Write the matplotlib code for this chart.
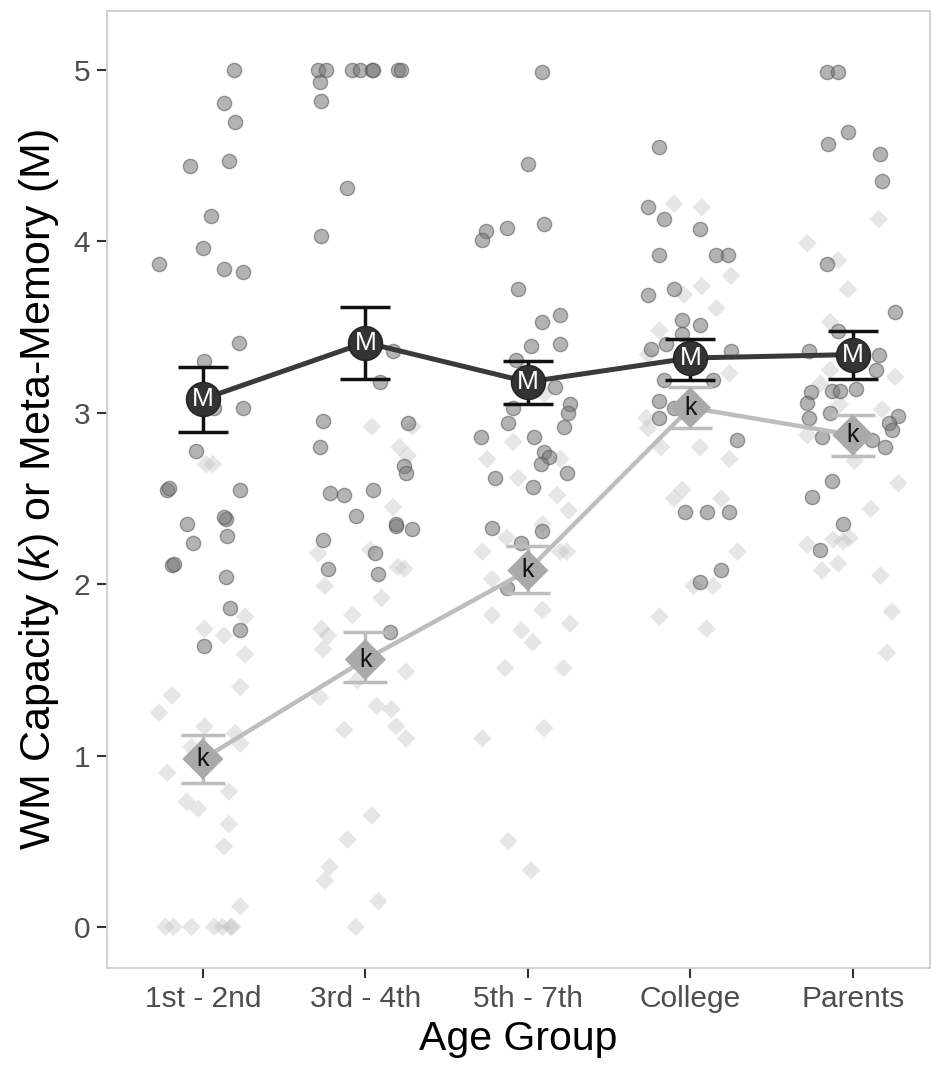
import matplotlib
matplotlib.use("Agg")
import matplotlib.pyplot as plt
import numpy as np

plt.rcParams['font.family'] = ['Liberation Sans', 'DejaVu Sans']
plt.rcParams['mathtext.fontset'] = 'custom'
plt.rcParams['mathtext.rm'] = 'Liberation Sans'
plt.rcParams['mathtext.it'] = 'Liberation Sans:italic'

groups = ["1st - 2nd", "3rd - 4th", "5th - 7th", "College", "Parents"]

# Individual meta-memory (M) scores: jitter offset from group centre, value
m_off_1 = [0.19, 0.13, 0.20, -0.08, 0.16, 0.05, 0.00, -0.27, 0.13, 0.25, 0.22, 0.01, 0.07, 0.25,
           -0.04, -0.22, -0.21, 0.23, -0.10, 0.14, 0.13, 0.15, -0.06, -0.19, -0.18, 0.14, 0.17, 0.23, 0.01]
m_val_1 = [5.00, 4.81, 4.70, 4.44, 4.47, 4.15, 3.96, 3.87, 3.84, 3.82, 3.41, 3.30, 3.03, 3.03,
           2.78, 2.55, 2.56, 2.55, 2.35, 2.38, 2.39, 2.28, 2.24, 2.11, 2.12, 2.04, 1.86, 1.73, 1.64]
m_off_2 = [-0.29, -0.24, -0.08, -0.03, 0.04, 0.05, 0.20, 0.22, -0.28, -0.27, -0.11, -0.27, 0.17, 0.09,
           -0.26, 0.26, -0.28, 0.24, 0.25, -0.22, -0.13, 0.05, -0.06, 0.19, 0.19, 0.29, -0.26, 0.06,
           -0.23, 0.08, 0.15]
m_val_2 = [5.00, 5.00, 5.00, 5.00, 5.00, 5.00, 5.00, 5.00, 4.93, 4.82, 4.31, 4.03, 3.36, 3.18,
           2.95, 2.94, 2.80, 2.69, 2.65, 2.53, 2.52, 2.55, 2.40, 2.34, 2.35, 2.32, 2.26, 2.18,
           2.09, 2.06, 1.72]
m_off_3 = [0.09, 0.00, -0.26, -0.28, -0.13, 0.10, -0.06, 0.20, 0.09, 0.02, 0.20, -0.07, 0.17, 0.26,
           0.25, -0.09, -0.12, 0.22, -0.29, 0.04, 0.10, 0.13, 0.08, 0.24, -0.20, 0.03, -0.22, 0.09,
           -0.04, -0.13]
m_val_3 = [4.99, 4.45, 4.06, 4.01, 4.08, 4.10, 3.72, 3.57, 3.53, 3.39, 3.40, 3.31, 3.15, 3.05,
           3.00, 3.03, 2.94, 2.92, 2.86, 2.86, 2.77, 2.74, 2.70, 2.65, 2.62, 2.57, 2.33, 2.31,
           2.24, 1.98]
m_off_4 = [-0.19, -0.26, -0.16, 0.06, -0.19, 0.16, 0.23, -0.10, -0.26, -0.05, 0.06, -0.05, -0.15,
           -0.24, 0.25, -0.16, 0.14, -0.19, -0.10, -0.19, 0.29, -0.03, 0.10, 0.24, 0.19, 0.06]
m_val_4 = [4.55, 4.20, 4.13, 4.07, 3.92, 3.92, 3.92, 3.72, 3.69, 3.54, 3.51, 3.46, 3.40,
           3.37, 3.36, 3.19, 3.19, 3.07, 3.03, 2.97, 2.84, 2.42, 2.42, 2.42, 2.08, 2.01]
m_off_5 = [-0.16, -0.09, -0.03, -0.15, 0.17, 0.18, -0.16, 0.26, -0.09, -0.27, 0.16, 0.14, -0.26,
           -0.13, -0.08, 0.02, -0.28, -0.27, -0.14, 0.28, 0.22, 0.24, -0.19, 0.12, 0.20, -0.13,
           -0.25, -0.06, -0.20]
m_val_5 = [4.99, 4.99, 4.64, 4.57, 4.51, 4.35, 3.87, 3.59, 3.48, 3.36, 3.34, 3.25, 3.12,
           3.13, 3.13, 3.14, 3.06, 2.97, 3.00, 2.98, 2.94, 2.90, 2.86, 2.84, 2.80, 2.60,
           2.51, 2.35, 2.20]

# Individual WM capacity (k) scores
k_off_1 = [0.02, 0.06, 0.26, 0.01, 0.13, 0.26, 0.23, -0.19, -0.27, 0.01, -0.07, 0.23, 0.20, -0.22,
           0.16, -0.10, -0.03, 0.16, 0.13, 0.23, -0.23, -0.18, -0.07, 0.07, 0.12, 0.17, 0.18]
k_val_1 = [2.70, 2.70, 1.81, 1.74, 1.70, 1.59, 1.40, 1.35, 1.25, 1.17, 1.05, 1.07, 1.13, 0.90,
           0.79, 0.73, 0.69, 0.60, 0.47, 0.12, 0.00, 0.00, 0.00, 0.00, 0.00, 0.00, 0.00]
k_off_2 = [0.04, 0.29, 0.21, 0.26, 0.17, -0.29, 0.03, 0.20, 0.24, -0.25, 0.10, -0.08, -0.27, -0.23,
           -0.26, -0.05, 0.25, -0.28, 0.07, 0.16, 0.19, 0.25, -0.13, 0.04, -0.11, -0.22, -0.25,
           0.08, -0.06]
k_val_2 = [2.92, 2.92, 2.80, 2.75, 2.45, 2.18, 2.20, 2.10, 2.09, 1.99, 1.92, 1.82, 1.74, 1.70,
           1.62, 1.44, 1.49, 1.34, 1.29, 1.27, 1.17, 1.10, 1.15, 0.65, 0.51, 0.35, 0.27,
           0.15, 0.00]
k_off_3 = [0.10, -0.09, -0.25, 0.20, -0.06, 0.18, 0.25, 0.09, -0.13, -0.28, 0.20, 0.24, -0.22,
           -0.22, 0.09, -0.04, 0.03, 0.26, -0.14, 0.22, 0.10, -0.28, -0.12, 0.02]
k_val_3 = [3.11, 2.83, 2.73, 2.73, 2.62, 2.52, 2.43, 2.35, 2.27, 2.19, 2.19, 2.19, 2.03,
           1.82, 1.85, 1.73, 1.66, 1.77, 1.51, 1.51, 1.16, 1.10, 0.50, 0.33]
k_off_4 = [-0.10, 0.07, 0.25, 0.07, -0.04, 0.16, -0.19, -0.26, 0.24, -0.27, -0.26, -0.18, 0.06,
           0.24, -0.05, -0.10, 0.19, 0.29, 0.02, 0.14, -0.19, 0.10]
k_val_4 = [4.22, 4.20, 3.80, 3.74, 3.69, 3.61, 3.48, 3.34, 3.23, 2.97, 2.91, 2.80, 2.80,
           2.73, 2.55, 2.50, 2.50, 2.19, 1.99, 1.99, 1.81, 1.74]
k_off_5 = [0.16, -0.28, -0.09, -0.03, -0.14, 0.26, -0.14, -0.20, -0.08, 0.18, -0.28, 0.01, 0.28,
           0.11, -0.28, -0.12, -0.06, -0.02, -0.19, -0.09, 0.17, 0.24, 0.21]
k_val_5 = [4.13, 3.99, 3.89, 3.72, 3.53, 3.21, 3.25, 3.17, 3.05, 3.02, 2.87, 2.72, 2.59,
           2.44, 2.23, 2.26, 2.25, 2.27, 2.08, 2.12, 2.05, 1.84, 1.60]

# Group means with error bars
m_mean = [3.08, 3.41, 3.18, 3.32, 3.34]
m_low = [2.89, 3.20, 3.05, 3.19, 3.20]
m_high = [3.27, 3.62, 3.30, 3.43, 3.48]
k_mean = [0.98, 1.56, 2.08, 3.03, 2.87]
k_low = [0.84, 1.43, 1.95, 2.91, 2.75]
k_high = [1.12, 1.72, 2.22, 3.15, 2.99]

m_offs = [m_off_1, m_off_2, m_off_3, m_off_4, m_off_5]
m_vals = [m_val_1, m_val_2, m_val_3, m_val_4, m_val_5]
k_offs = [k_off_1, k_off_2, k_off_3, k_off_4, k_off_5]
k_vals = [k_val_1, k_val_2, k_val_3, k_val_4, k_val_5]

fig = plt.figure(figsize=(9.4, 10.72), dpi=100)
ax = fig.add_axes([107/940, 1 - 968/1072, (930 - 107)/940, (968 - 11)/1072])

# raw data: diamonds (k) first, circles (M) on top
for i in range(5):
    xs = i + np.array(k_offs[i])
    ax.scatter(xs, k_vals[i], marker='D', s=90, facecolor='#bcbcbc', edgecolor='none',
               alpha=0.36, zorder=2)
for i in range(5):
    xs = i + np.array(m_offs[i])
    ax.scatter(xs, m_vals[i], marker='o', s=105, facecolor='#767676', edgecolor='#555555',
               linewidths=1.0, alpha=0.55, zorder=3)

x = np.arange(5)
# k summary
ax.plot(x, k_mean, color='#bdbdbd', lw=3.2, zorder=4, solid_capstyle='butt')
ax.errorbar(x, k_mean, yerr=[np.array(k_mean) - np.array(k_low), np.array(k_high) - np.array(k_mean)],
            fmt='none', ecolor='#bdbdbd', elinewidth=2.5, capsize=16, capthick=2.5, zorder=4)
ax.scatter(x, k_mean, marker='D', s=440, facecolor='#a9a9a9', edgecolor='none', zorder=5)
for xi, yi in zip(x, k_mean):
    ax.text(xi, yi, 'k', ha='center', va='center', fontsize=18, color='#111111', zorder=6)

# M summary
ax.plot(x, m_mean, color='#3a3a3a', lw=3.6, zorder=7, solid_capstyle='butt')
ax.errorbar(x, m_mean, yerr=[np.array(m_mean) - np.array(m_low), np.array(m_high) - np.array(m_mean)],
            fmt='none', ecolor='#111111', elinewidth=2.5, capsize=18, capthick=2.5, zorder=7)
ax.scatter(x, m_mean, marker='o', s=600, facecolor='#333333', edgecolor='#222222', zorder=8)
for xi, yi in zip(x, m_mean):
    ax.text(xi, yi, 'M', ha='center', va='center', fontsize=19, color='white', zorder=9)

ax.set_xlim(-0.59, 4.475)
ax.set_ylim(-0.24, 5.345)
ax.set_xticks(x)
ax.set_xticklabels(groups)
ax.set_yticks([0, 1, 2, 3, 4, 5])
ax.tick_params(axis='both', labelsize=21.5, colors='#333333', labelcolor='#4d4d4d',
               length=7, width=1.5, pad=5)
for sp in ax.spines.values():
    sp.set_color('#cfcfcf')
    sp.set_linewidth(1.3)

ax.set_xlabel('Age Group', fontsize=29.5, color='black', labelpad=5)
ax.set_ylabel(r'WM Capacity ($\mathit{k}$) or Meta-Memory (M)', fontsize=31, color='black', labelpad=9)

fig.savefig('out.png', dpi=100)
